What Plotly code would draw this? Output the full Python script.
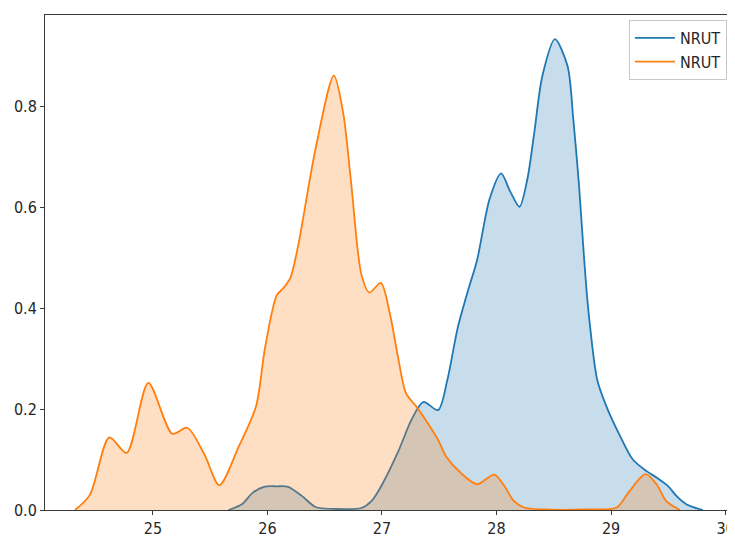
import plotly.graph_objects as go

# Blue series (first NRUT) – density estimate
blue_x = [25.66, 25.78, 25.87, 25.97, 26.08, 26.18, 26.30, 26.42, 26.60, 26.82, 26.91,
          27.00, 27.14, 27.26, 27.36, 27.49, 27.57, 27.66, 27.75, 27.83, 27.94, 28.04,
          28.12, 28.20, 28.27, 28.33, 28.40, 28.51, 28.62, 28.67, 28.72, 28.76, 28.80,
          28.88, 28.96, 29.08, 29.19, 29.31, 29.40, 29.50, 29.57, 29.66, 29.80]
blue_y = [0.0, 0.012, 0.034, 0.046, 0.047, 0.046, 0.028, 0.006, 0.002, 0.004, 0.018,
          0.050, 0.115, 0.180, 0.214, 0.198, 0.257, 0.360, 0.434, 0.495, 0.617, 0.667,
          0.631, 0.601, 0.657, 0.749, 0.860, 0.933, 0.880, 0.775, 0.644, 0.513, 0.400,
          0.257, 0.205, 0.146, 0.100, 0.077, 0.064, 0.047, 0.028, 0.011, 0.0]

# Orange series (second NRUT)
orange_x = [24.32, 24.45, 24.62, 24.77, 24.96, 25.17, 25.30, 25.45, 25.58, 25.75, 25.90,
            25.98, 26.08, 26.14, 26.20, 26.27, 26.42, 26.58, 26.66, 26.73, 26.82, 26.89,
            26.99, 27.07, 27.14, 27.21, 27.30, 27.40, 27.49, 27.56, 27.69, 27.83, 27.98,
            28.07, 28.15, 28.24, 28.40, 28.80, 29.05, 29.15, 29.30, 29.40, 29.48, 29.60]
orange_y = [0.0, 0.030, 0.144, 0.113, 0.252, 0.151, 0.163, 0.110, 0.049, 0.126, 0.205,
            0.323, 0.425, 0.440, 0.460, 0.526, 0.716, 0.861, 0.789, 0.650, 0.467, 0.431,
            0.450, 0.388, 0.303, 0.231, 0.205, 0.172, 0.139, 0.106, 0.073, 0.051, 0.070,
            0.047, 0.018, 0.005, 0.001, 0.001, 0.005, 0.034, 0.071, 0.050, 0.018, 0.0]

series_names = ["NRUT", "NRUT"]
x_ticks = [25, 26, 27, 28, 29, 30]
y_ticks = [0.0, 0.2, 0.4, 0.6, 0.8]
y_tick_labels = ["0.0", "0.2", "0.4", "0.6", "0.8"]

FONT = "Liberation Sans Narrow, DejaVu Sans Condensed, DejaVu Sans, sans-serif"
COLORS = ["#1f77b4", "#ff7f0e"]
FILLS = ["rgba(31,119,180,0.25)", "rgba(255,127,14,0.25)"]

fig = go.Figure()
for xs, ys, name, col, fc in [(blue_x, blue_y, series_names[0], COLORS[0], FILLS[0]),
                              (orange_x, orange_y, series_names[1], COLORS[1], FILLS[1])]:
    # shaded area (no legend entry)
    fig.add_trace(go.Scatter(
        x=xs, y=ys, mode="lines", showlegend=False, hoverinfo="skip",
        line=dict(color=col, width=0, shape="spline", smoothing=0.8),
        fill="tozeroy", fillcolor=fc,
    ))
    # outline with legend entry
    fig.add_trace(go.Scatter(
        x=xs, y=ys, name=name, mode="lines",
        line=dict(color=col, width=1.8, shape="spline", smoothing=0.8),
    ))

axis_common = dict(
    showgrid=False, zeroline=False, showline=True, linecolor="#3a3a3a", linewidth=1,
    ticks="outside", ticklen=4, tickwidth=1, tickcolor="#3a3a3a",
    tickfont=dict(family=FONT, size=16, color="#262626"),
    ticklabeloverflow="allow",
)

fig.update_layout(
    width=727, height=530,
    margin=dict(l=37, r=0, t=7, b=22),
    paper_bgcolor="white", plot_bgcolor="white",
    showlegend=True,
    legend=dict(
        x=0.994, y=0.99, xanchor="right", yanchor="top",
        bgcolor="rgba(255,255,255,0.8)", bordercolor="#c8c8c8", borderwidth=1,
        font=dict(family=FONT, size=16, color="#262626"),
        itemwidth=40, tracegroupgap=0,
    ),
    xaxis=dict(range=[24.058, 30.047], tickvals=x_ticks, mirror=True, **axis_common),
    yaxis=dict(range=[0, 0.981], tickvals=y_ticks, ticktext=y_tick_labels, mirror=False,
               **axis_common),
)

fig.write_html("out.html")
